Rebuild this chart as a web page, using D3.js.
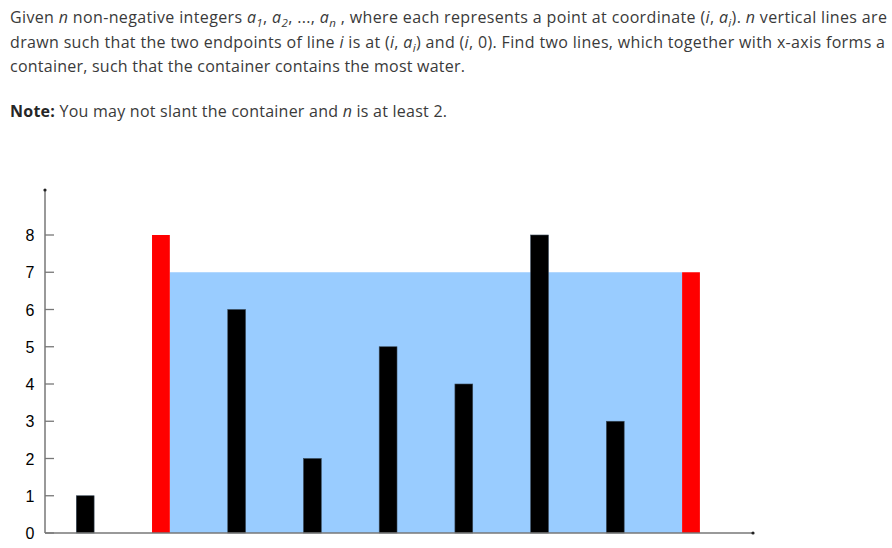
<!DOCTYPE html>
<html>
<head>
<meta charset="utf-8">
<script src="https://cdn.jsdelivr.net/npm/d3@7"></script>
<style>
  html, body { margin: 0; padding: 0; background: #fff; }
  svg { display: block; }
</style>
</head>
<body>
<svg id="chart" width="892" height="548"></svg>
<script>
// ---------- data ----------
const heights = [1, 8, 6, 2, 5, 4, 8, 3, 7];     // a_1 .. a_n
const containerLines = [1, 8];                    // indices of the two chosen lines
const yTicks = [0, 1, 2, 3, 4, 5, 6, 7, 8];

// text lines: [text, style]  (i = italic, sub = subscript, b = bold)
const textLine1 = [["Given ", ""], ["n", "i"], [" non-negative integers ", ""], ["a", "i"], ["1", "i sub"], [", ", ""], ["a", "i"], ["2", "i sub"], [", ..., ", ""], ["a", "i"], ["n", "i sub"], [" , where each represents a point at coordinate (", ""], ["i", "i"], [", ", ""], ["a", "i"], ["i", "i sub"], ["). ", ""], ["n", "i"], [" vertical lines are", ""]];
const textLine2 = [["drawn such that the two endpoints of line ", ""], ["i", "i"], [" is at (", ""], ["i", "i"], [", ", ""], ["a", "i"], ["i", "i sub"], [") and (", ""], ["i", "i"], [", 0). Find two lines, which together with x-axis forms a", ""]];
const textLine3 = [["container, such that the container contains the most water.", ""]];
const textLine4 = [["Note:", "b"], [" You may not slant the container and ", ""], ["n", "i"], [" is at least 2.", ""]];

// ---------- drawing ----------
const svg = d3.select("#chart");

function drawText(y, segs, len) {
  const t = svg.append("text")
    .attr("x", 10).attr("y", y)
    .attr("font-family", "'Open Sans', 'Noto Sans', sans-serif")
    .attr("font-size", 16)
    .attr("fill", "#3a3a3a");
  let shifted = false;
  segs.forEach(([s, st]) => {
    const ts = t.append("tspan").text(s);
    const styles = st.split(" ");
    if (styles.includes("i")) ts.attr("font-style", "italic");
    if (styles.includes("b")) ts.attr("font-weight", "bold").attr("fill", "#262626");
    if (styles.includes("sub")) {
      ts.attr("font-size", 11.5);
      if (!shifted) { ts.attr("dy", 4); shifted = true; }
    } else if (shifted) {
      ts.attr("dy", -4); shifted = false;
    }
  });
  if (len) t.attr("textLength", len).attr("lengthAdjust", "spacing");
}

drawText(23, textLine1, 877);
drawText(47.5, textLine2, 875);
drawText(72, textLine3, 455);
drawText(117, textLine4, 437);

// scales
const x = d3.scaleLinear().domain([0, heights.length - 1]).range([85.2, 691]);
const y = d3.scaleLinear().domain([0, 8]).range([533, 235]);
const barW = 17.8;

const axisX = 45;
const axisColor = "#777";

// water
const [li, ri] = containerLines;
const level = Math.min(heights[li], heights[ri]);
svg.append("rect")
  .attr("x", x(li) + barW / 2)
  .attr("y", y(level))
  .attr("width", (x(ri) - barW / 2) - (x(li) + barW / 2))
  .attr("height", y(0) - y(level))
  .attr("fill", "#99ccff");

// bars
svg.append("g").selectAll("rect")
  .data(heights)
  .join("rect")
  .attr("x", (d, i) => x(i) - barW / 2)
  .attr("y", d => y(d))
  .attr("width", barW)
  .attr("height", d => y(0) - y(d))
  .attr("fill", (d, i) => containerLines.includes(i) ? "#ff0000" : "#000")
  .attr("stroke", (d, i) => containerLines.includes(i) ? "none" : "#3a4a5a")
  .attr("stroke-width", 0.6);

// y axis
const yAxisG = svg.append("g").attr("transform", `translate(${axisX},0)`);
yAxisG.append("line")
  .attr("x1", 0).attr("x2", 0)
  .attr("y1", y(0)).attr("y2", 190)
  .attr("stroke", axisColor).attr("stroke-width", 1.5);
yAxisG.append("circle").attr("cx", 0).attr("cy", 190).attr("r", 1.6).attr("fill", "#222");
const tick = yAxisG.selectAll("g.tick").data(yTicks).join("g")
  .attr("class", "tick")
  .attr("transform", d => `translate(0,${y(d)})`);
tick.append("line").attr("x1", 0).attr("x2", 9)
  .attr("stroke", axisColor).attr("stroke-width", 1.3);
tick.append("text")
  .attr("x", -15).attr("dy", "0.38em")
  .attr("text-anchor", "middle")
  .attr("font-family", "'Liberation Sans', Arial, sans-serif")
  .attr("font-size", 16)
  .attr("fill", "#000")
  .text(d => d);

// x axis
svg.append("line")
  .attr("x1", axisX).attr("x2", 753)
  .attr("y1", y(0)).attr("y2", y(0))
  .attr("stroke", axisColor).attr("stroke-width", 1.5);
svg.append("circle").attr("cx", 753).attr("cy", y(0)).attr("r", 1.6).attr("fill", "#222");
</script>
</body>
</html>
